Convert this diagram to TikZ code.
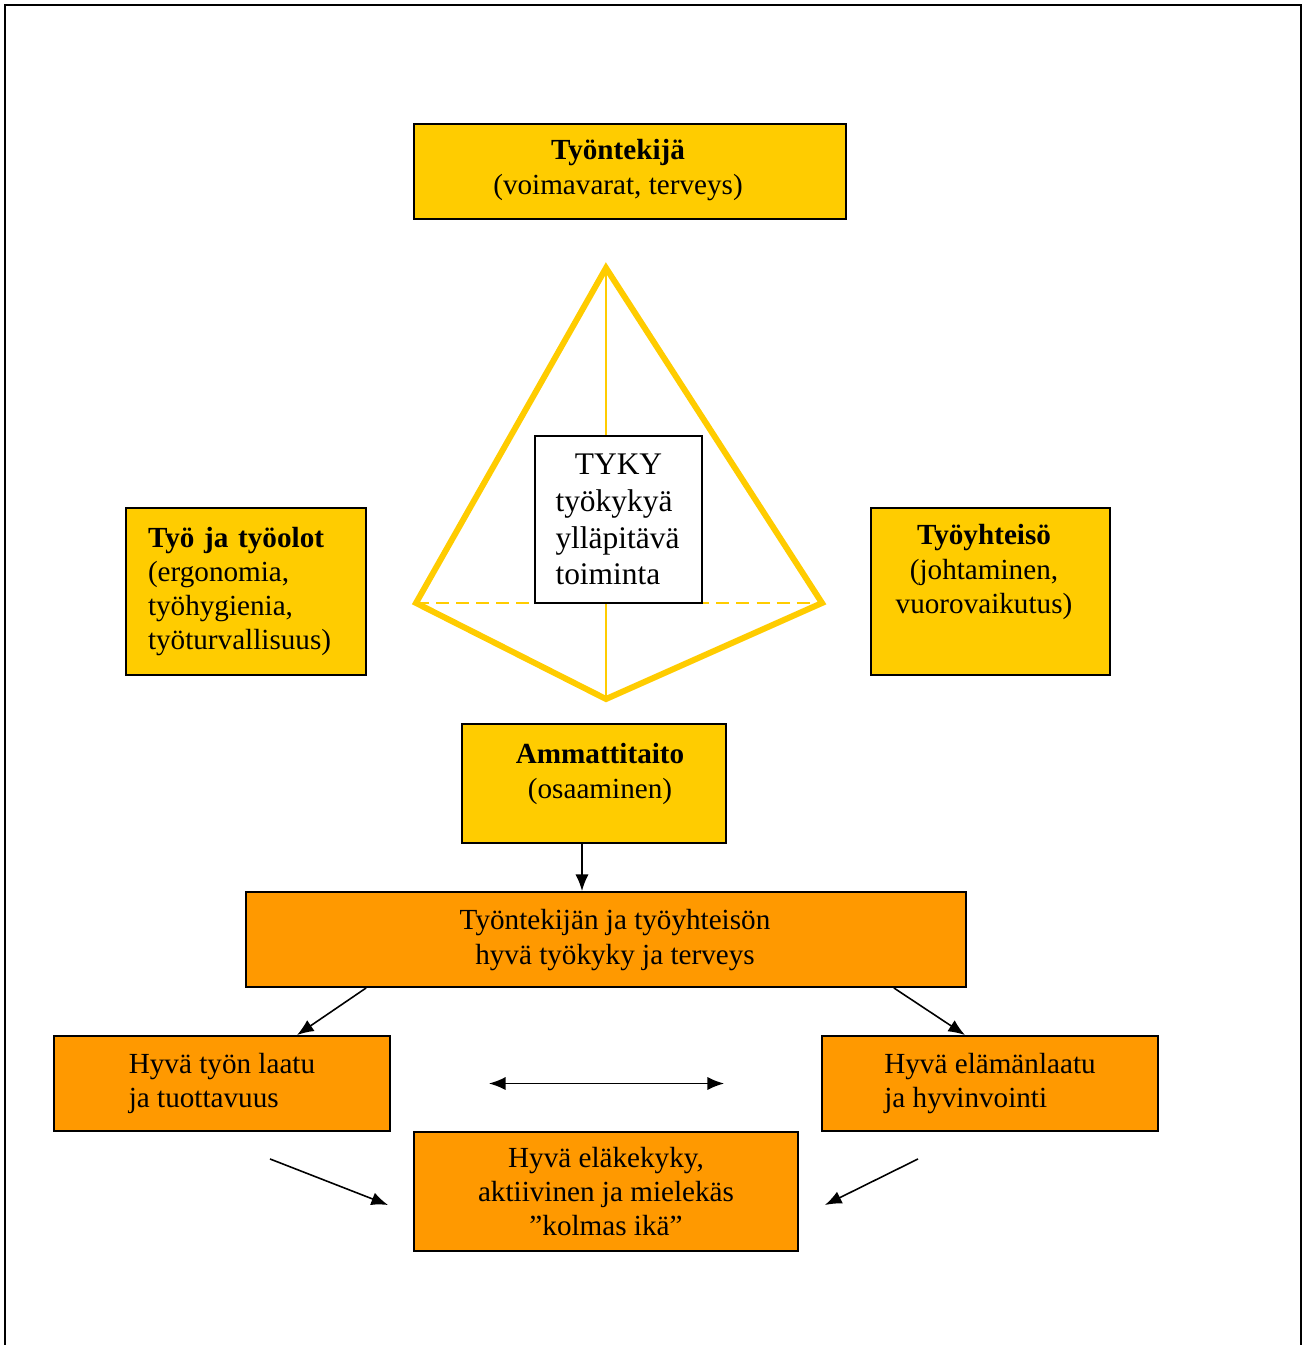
\documentclass[tikz,border=0pt]{standalone}
\usepackage{fontspec}
\setmainfont{Liberation Serif}
\usetikzlibrary{arrows.meta, positioning, calc}
\definecolor{keltainen}{HTML}{FFCC00}
\definecolor{oranssi}{HTML}{FF9900}
\newcommand{\perusfont}{\fontsize{16.6}{19.4}\selectfont}
\tikzset{
  % --- Tekijat (keltaiset) ----------------------------------
  tekija/.style={draw, line width=1.1pt, fill=keltainen, inner sep=0pt,
    font=\perusfont},
  teksti/.style={inner sep=0pt, font=\perusfont},
  % --- Tulokset (oranssit) ----------------------------------
  tulos/.style={draw, line width=1.1pt, fill=oranssi, inner sep=0pt,
    font=\perusfont},
  tykybox/.style={draw, line width=1.1pt, fill=white, inner sep=0pt,
    font=\fontsize{17.9}{20.9}\selectfont},
  % --- Pyramidi ---------------------------------------------
  reuna/.style={draw=keltainen, line width=3.4pt},
  sisaviiva/.style={draw=keltainen, line width=1.1pt},
  takaviiva/.style={draw=keltainen, line width=0.9pt,
    dash pattern=on 7.4pt off 4pt},
  % --- Nuolet -----------------------------------------------
  nuoli/.style={-{Latex[length=9.5pt, width=7.5pt]}, line width=0.9pt},
  nuoli2/.style={{Latex[length=9.5pt, width=7.5pt]}-{Latex[length=9.5pt, width=7.5pt]},
    line width=0.9pt}
}
\begin{document}
\begin{tikzpicture}[x=0.02cm, y=-0.02cm]
  \useasboundingbox (0,0) rectangle (1304,1345);

  % ---------- Kehys ----------
  \draw[line width=1.6pt] (5,1345) -- (5,5) -- (1301,5) -- (1301,1345);

  % ---------- Pyramidi ----------
  \coordinate (huippu) at (606,268);
  \coordinate (vasen) at (416,603);
  \coordinate (oikea) at (822,603);
  \coordinate (pohja) at (606,699);
  \draw[sisaviiva] (huippu) -- (pohja);
  \draw[takaviiva] (vasen) -- (oikea);
  \draw[reuna] (huippu) -- (vasen) -- (pohja) -- (oikea) -- cycle;

  \node[tykybox, minimum width=3.34cm, minimum height=3.34cm,
        text width=2.52cm, align=left] (tyky) at (618.5,519.5)
    {\makebox[\linewidth]{TYKY}\\työkykyä\\ylläpitävä\\toiminta};

  % ---------- Tekijat ----------
  \node[tekija, minimum width=8.64cm, minimum height=1.9cm]
    (tyontekija) at (630,171.5) {};
  \node[teksti, align=center] (tyontekijateksti) at (618,170)
    {\textbf{Työntekijä}\\(voimavarat, terveys)};
  \node[tekija, minimum width=4.8cm, minimum height=3.34cm,
        text width=3.92cm, align=left] (tyo) at (246,591.5)
    {\textbf{Työ ja työolot}\\(ergonomia,\\työhygienia,\\työturvallisuus)};
  \node[tekija, minimum width=4.78cm, minimum height=3.34cm]
    (yhteiso) at (990.5,591.5) {};
  \node[teksti, align=center] (yhteisoteksti) at (984,572)
    {\textbf{Työyhteisö}\\(johtaminen,\\vuorovaikutus)};
  \node[tekija, minimum width=5.28cm, minimum height=2.38cm]
    (amm) at (594,783.5) {};
  \node[teksti, align=center] (ammteksti) at (600,774)
    {\textbf{Ammattitaito}\\(osaaminen)};

  % ---------- Tulokset ----------
  \node[tulos, minimum width=14.4cm, minimum height=1.9cm]
    (iso) at (606,939.5) {};
  \node[teksti, align=center] (isoteksti) at (615,940)
    {Työntekijän ja työyhteisön\\hyvä työkyky ja terveys};
  \node[tulos, minimum width=6.72cm, minimum height=1.9cm, align=left]
    (laatu) at (222,1083.5) {Hyvä työn laatu\\ja tuottavuus};
  \node[tulos, minimum width=6.72cm, minimum height=1.9cm, align=left]
    (elama) at (990,1083.5) {Hyvä elämänlaatu\\ja hyvinvointi};
  \node[tulos, minimum width=7.68cm, minimum height=2.38cm, align=center]
    (elake) at (606,1191.5)
    {Hyvä eläkekyky,\\aktiivinen ja mielekäs\\”kolmas ikä”};

  % ---------- Nuolet ----------
  \coordinate (ammala) at ($(amm.south)+(-12,0)$);
  \draw[nuoli] (ammala) -- (ammala |- iso.north);
  \draw[nuoli] ($(iso.south west)+(121,0)$) -- ($(laatu.north)+(75,0)$);
  \draw[nuoli] ($(iso.south east)+(-73,0)$) -- ($(elama.north)+(-25,0)$);
  \draw[nuoli2] ($(laatu.east)+(98,0)$) -- ($(elama.west)+(-97,0)$);
  \draw[nuoli] ($(laatu.south)+(48,27)$) -- ($(elake.west)+(-25,13.5)$);
  \draw[nuoli] ($(elama.south)+(-72,27)$) -- ($(elake.east)+(26,13.5)$);

\end{tikzpicture}
\end{document}
